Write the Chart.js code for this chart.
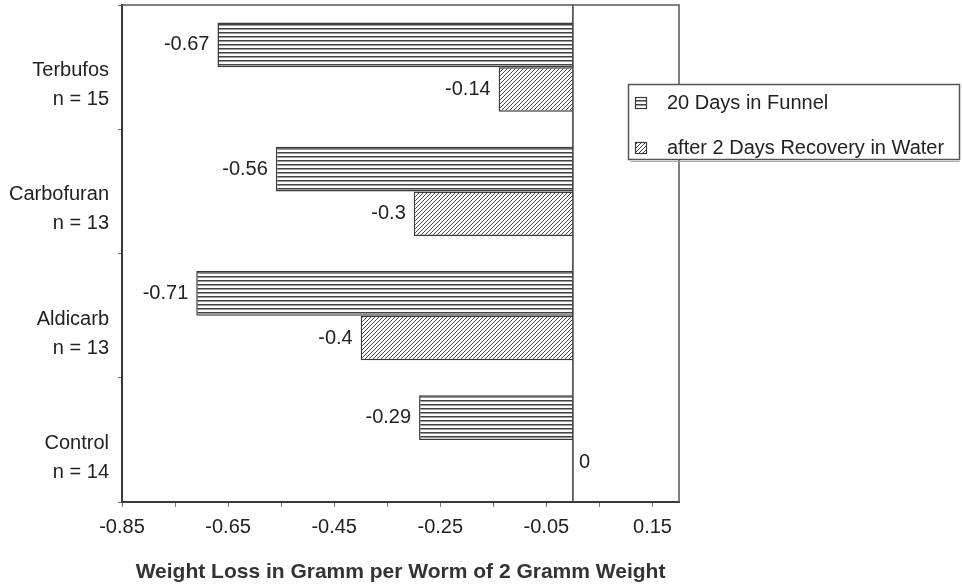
<!DOCTYPE html>
<html>
<head>
<meta charset="utf-8">
<title>Weight loss per worm</title>
<script src="https://cdn.jsdelivr.net/npm/chart.js@4.4.1/dist/chart.umd.min.js"></script>
<style>
  html, body { margin: 0; padding: 0; background: #fff; }
  #wrap { width: 962px; height: 587px; }
</style>
</head>
<body>
<div id="wrap"><canvas id="weight-loss-chart"></canvas></div>
<script>
var categories = ['Terbufos', 'Carbofuran', 'Aldicarb', 'Control'];
var sampleSizes = ['n = 15', 'n = 13', 'n = 13', 'n = 14'];
var funnelValues = [-0.67, -0.56, -0.71, -0.29];
var recoveryValues = [-0.14, -0.3, -0.4, 0];
var seriesNames = ['20 Days in Funnel', 'after 2 Days Recovery in Water'];
var xTickValues = [-0.85, -0.75, -0.65, -0.55, -0.45, -0.35, -0.25, -0.15, -0.05, 0.05, 0.15];
var xTickLabels = ['-0.85', '', '-0.65', '', '-0.45', '', '-0.25', '', '-0.05', '', '0.15'];
var axisTitle = 'Weight Loss in Gramm per Worm of 2 Gramm Weight';

var ink = '#3a3a3a';
var fontFamily = '"Liberation Sans", Arial, sans-serif';
Chart.defaults.font.family = fontFamily;

// fill patterns: horizontal stripes and "////" hatching
function stripePattern() {
    var c = document.createElement('canvas');
    c.width = 8; c.height = 4;
    var g = c.getContext('2d');
    g.fillStyle = '#fff';
    g.fillRect(0, 0, 8, 4);
    g.fillStyle = '#444';
    g.fillRect(0, 0, 8, 1);
    g.fillStyle = '#999';
    g.fillRect(0, 1, 8, 1);
    return g.createPattern(c, 'repeat');
}

function hatchPattern() {
    var c = document.createElement('canvas');
    c.width = 4; c.height = 4;
    var g = c.getContext('2d');
    g.fillStyle = '#fff';
    g.fillRect(0, 0, 4, 4);
    g.strokeStyle = '#444';
    g.lineWidth = 1;
    g.beginPath();
    g.moveTo(0, 4); g.lineTo(4, 0);
    g.moveTo(-1, 1); g.lineTo(1, -1);
    g.moveTo(3, 5); g.lineTo(5, 3);
    g.stroke();
    return g.createPattern(c, 'repeat');
}

var fills = [stripePattern(), hatchPattern()];

var extras = {
    id: 'extras',
    afterDatasetsDraw: function (chart) {
        var c = chart.ctx;
        var area = chart.chartArea;
        var x0 = chart.scales.x.getPixelForValue(0);
        c.save();
        // zero line
        c.strokeStyle = ink;
        c.lineWidth = 1.5;
        c.beginPath();
        c.moveTo(x0, area.top);
        c.lineTo(x0, area.bottom);
        c.stroke();
        // top and right frame
        c.lineWidth = 1.5;
        c.strokeStyle = '#555';
        c.beginPath();
        c.moveTo(area.left, area.top);
        c.lineTo(area.right, area.top);
        c.lineTo(area.right, area.bottom);
        c.stroke();

        // value labels
        c.font = '20px ' + fontFamily;
        c.fillStyle = '#222';
        c.textBaseline = 'middle';
        chart.data.datasets.forEach(function (ds, di) {
            chart.getDatasetMeta(di).data.forEach(function (bar, i) {
                var v = ds.data[i];
                if (v < 0) {
                    c.textAlign = 'right';
                    c.fillText(String(v), bar.x - 8, bar.y);
                } else {
                    c.textAlign = 'left';
                    c.fillText(String(v), bar.base + 6, bar.y);
                }
            });
        });
        c.restore();
    },
    afterDraw: function (chart) {
        var c = chart.ctx;
        var bx = 628.5, by = 84.5, bw = 331, bh = 75;
        c.save();
        c.fillStyle = '#fff';
        c.fillRect(bx, by, bw, bh);
        c.strokeStyle = '#555';
        c.lineWidth = 1.5;
        c.strokeRect(bx, by, bw, bh);
        c.strokeStyle = '#aaa';
        c.lineWidth = 1;
        c.beginPath();
        c.moveTo(bx + 2, by + bh + 2);
        c.lineTo(bx + bw, by + bh + 2);
        c.stroke();

        c.font = '20px ' + fontFamily;
        c.textBaseline = 'middle';
        c.textAlign = 'left';
        var rows = [103, 148];
        chart.data.datasets.forEach(function (ds, i) {
            var y = rows[i];
            c.fillStyle = ds.backgroundColor;
            c.fillRect(635, y - 6, 12, 12);
            c.strokeStyle = ink;
            c.lineWidth = 1.2;
            c.strokeRect(635.5, y - 5.5, 11, 11);
            c.fillStyle = '#222';
            c.fillText(ds.label, 667, y);
        });
        c.restore();
    }
};

function barBorder(ctx) {
    return ctx.raw === 0 ? 0 : 1.5;
}

var ctx = document.getElementById('weight-loss-chart').getContext('2d');
var chart = new Chart(ctx, {
    type: 'bar',
    data: {
        labels: categories.map(function (name, i) { return [name, sampleSizes[i]]; }),
        datasets: [
            {
                label: seriesNames[0],
                data: funnelValues,
                backgroundColor: fills[0],
                borderColor: ink,
                borderWidth: barBorder,
                categoryPercentage: 0.72,
                barPercentage: 1
            },
            {
                label: seriesNames[1],
                data: recoveryValues,
                backgroundColor: fills[1],
                borderColor: ink,
                borderWidth: barBorder,
                categoryPercentage: 0.72,
                barPercentage: 1
            }
        ]
    },
    options: {
        indexAxis: 'y',
        responsive: true,
        maintainAspectRatio: false,
        animation: false,
        layout: {
            padding: { left: 0, top: 5, right: 283, bottom: 0 }
        },
        plugins: {
            legend: { display: false },
            tooltip: { enabled: false }
        },
        scales: {
            x: {
                type: 'linear',
                min: -0.85,
                max: 0.2,
                afterBuildTicks: function (scale) {
                    scale.ticks = xTickValues.map(function (v) { return { value: v }; });
                },
                afterFit: function (scale) {
                    scale.height = 85;
                    scale.paddingLeft = 0;
                    scale.paddingRight = 0;
                },
                ticks: {
                    autoSkip: false,
                    maxRotation: 0,
                    padding: 8,
                    color: '#222',
                    font: { size: 20 },
                    callback: function (value, index) {
                        return xTickLabels[index];
                    }
                },
                grid: {
                    drawOnChartArea: false,
                    tickLength: 5,
                    color: '#777'
                },
                border: { color: ink, width: 2 },
                title: {
                    display: true,
                    text: axisTitle,
                    color: '#333',
                    font: { size: 21, weight: 'bold' },
                    padding: { top: 0, bottom: 2 }
                }
            },
            y: {
                afterFit: function (scale) {
                    scale.width = 122;
                    scale.paddingTop = 0;
                    scale.paddingBottom = 0;
                },
                ticks: {
                    padding: 9,
                    labelOffset: 18,
                    color: '#222',
                    font: { size: 20, lineHeight: 1.45 }
                },
                grid: {
                    drawOnChartArea: false,
                    tickLength: 4,
                    color: '#777',
                    offset: true
                },
                border: { color: ink, width: 2 }
            }
        }
    },
    plugins: [extras]
});
</script>
</body>
</html>
